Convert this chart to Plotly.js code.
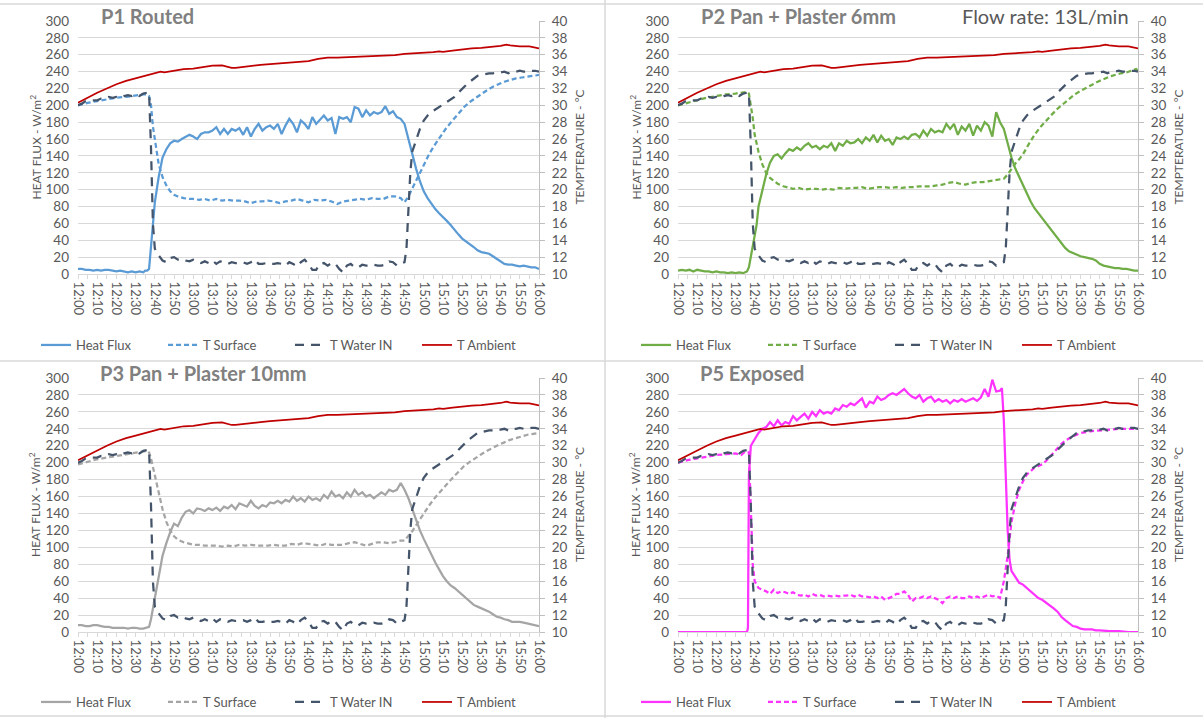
<!DOCTYPE html>
<html>
<head>
<meta charset="utf-8">
<script src="https://cdn.plot.ly/plotly-3.0.1.min.js"></script>
<style>
  html, body { margin: 0; padding: 0; background: #ffffff; }
  #chart { width: 1203px; height: 718px; }
</style>
</head>
<body>
<div id="chart"></div>
<script>
// ---------------- DATA ----------------
// x values are minutes after 12:00
const timeLabels = ['12:00','12:10','12:20','12:30','12:40','12:50','13:00','13:10','13:20','13:30','13:40','13:50',
  '14:00','14:10','14:20','14:30','14:40','14:50','15:00','15:10','15:20','15:30','15:40','15:50','16:00'];

const seriesNames = ['Heat Flux', 'T Surface', 'T Water IN', 'T Ambient'];
const panelTitles = ['P1 Routed', 'P2 Pan + Plaster 6mm', 'P3 Pan + Plaster 10mm', 'P5 Exposed'];
const flowRateNote = 'Flow rate: 13L/min';
const leftAxisTitle = 'HEAT FLUX - W/m<sup>2</sup>';
const rightAxisTitle = 'TEMPTERATURE - °C';

// Shared temperatures (°C) – same in all four panels
const tWaterIn = [[0,30.0],[2,30.2],[4,30.5],[6,30.6],[8,30.6],[10,30.6],[12,30.8],[14,30.8],[16,31.0],[18,30.9],[20,31.0],[22,30.9],[24,31.1],[26,31.2],[28,31.1],[30,31.3],[32,31.1],[34,31.4],[36,31.5],[37,31.5],[38,25.0],[39,16.0],[40,13.0],[42,12.2],[44,11.6],[46,11.4],[48,11.9],[50,12.0],[52,11.7],[54,11.8],[56,11.6],[58,11.5],[60,11.7],[62,11.5],[64,11.3],[66,11.5],[68,11.3],[70,11.6],[72,11.2],[74,11.5],[76,11.4],[78,11.2],[80,11.4],[82,11.3],[84,11.3],[86,11.4],[88,11.2],[90,11.4],[92,11.7],[94,11.2],[96,11.2],[98,11.3],[100,11.2],[102,11.2],[104,11.3],[106,11.2],[108,11.0],[110,11.4],[112,11.2],[114,10.9],[116,11.4],[118,11.7],[120,11.2],[122,10.5],[124,10.5],[126,11.2],[128,11.3],[130,11.0],[132,11.3],[134,11.2],[136,10.6],[138,10.2],[140,11.0],[142,11.2],[144,10.8],[146,10.8],[148,11.1],[150,11.0],[152,11.0],[154,11.1],[156,11.0],[158,11.0],[160,11.1],[162,11.5],[164,11.4],[166,11.0],[168,11.2],[170,11.4],[171,13.0],[172,18.0],[173,22.0],[174,24.5],[176,26.0],[178,27.2],[180,28.2],[182,28.8],[184,29.2],[186,29.5],[188,29.7],[190,30.0],[192,30.3],[194,30.6],[196,31.0],[198,31.5],[200,32.0],[202,32.4],[204,32.8],[206,33.2],[208,33.5],[210,33.6],[212,33.7],[214,33.8],[216,33.8],[218,33.9],[220,33.9],[222,34.0],[224,33.8],[226,34.0],[228,34.0],[230,34.1],[232,34.0],[234,34.0],[236,34.1],[238,34.1],[240,34.0]];

const tAmbient = [[0,30.3],[5,30.9],[10,31.5],[15,32.0],[20,32.5],[25,32.9],[30,33.2],[35,33.5],[40,33.8],[43,34.0],[45,33.9],[50,34.1],[55,34.3],[60,34.35],[65,34.5],[70,34.7],[75,34.75],[78,34.6],[80,34.45],[82,34.45],[85,34.55],[90,34.7],[95,34.8],[100,34.9],[105,35.0],[110,35.1],[115,35.15],[120,35.25],[125,35.5],[130,35.65],[135,35.65],[140,35.7],[145,35.75],[150,35.85],[155,35.9],[160,35.9],[165,35.95],[170,36.1],[175,36.15],[180,36.2],[185,36.3],[188,36.4],[190,36.35],[195,36.5],[200,36.65],[205,36.75],[210,36.8],[215,36.9],[220,37.05],[223,37.2],[225,37.1],[230,37.0],[235,37.0],[240,36.75]];

// P1 Routed
const p1HeatFlux = [[0,6],[2,6],[4,5],[6,5],[8,4],[10,5],[12,4],[14,5],[16,5],[18,4],[20,3],[22,4],[24,3],[26,2],[28,3],[30,2],[32,3],[34,2],[35,4],[36,4],[37,6],[38,30],[39,60],[40,85],[42,115],[44,138],[46,148],[48,155],[50,158],[52,157],[54,160],[56,163],[58,165],[60,163],[62,160],[64,166],[66,168],[68,168],[70,170],[72,174],[74,166],[76,172],[78,166],[80,172],[82,170],[84,173],[86,165],[88,174],[90,163],[92,172],[94,178],[96,170],[98,174],[100,176],[102,172],[104,178],[106,166],[108,176],[110,184],[112,178],[114,168],[116,182],[118,178],[120,172],[122,186],[124,178],[126,183],[128,188],[130,182],[132,185],[134,166],[136,186],[138,184],[140,186],[142,180],[144,198],[146,196],[148,186],[150,194],[152,188],[154,192],[156,190],[158,192],[160,199],[162,190],[164,193],[166,186],[168,184],[170,178],[172,160],[174,140],[176,125],[178,110],[180,98],[182,90],[184,83],[186,77],[188,72],[190,68],[192,63],[194,58],[196,52],[198,47],[200,42],[202,39],[204,36],[206,32],[208,28],[210,26],[212,25],[214,24],[216,21],[218,18],[220,14],[222,12],[224,11],[226,11],[228,10],[230,9],[232,10],[234,9],[236,8],[238,8],[240,6]];
const p1TSurface = [[0,30.0],[5,30.3],[10,30.5],[15,30.7],[20,30.9],[25,31.0],[30,31.2],[34,31.3],[36,31.3],[37,31.1],[38,30.0],[39,27.5],[40,26.0],[42,23.0],[44,21.5],[46,20.5],[48,19.8],[50,19.4],[52,19.2],[55,19.0],[58,18.9],[60,18.9],[63,18.8],[66,18.9],[69,18.7],[72,18.9],[75,18.7],[78,18.8],[81,18.7],[84,18.7],[87,18.6],[90,18.4],[93,18.6],[96,18.6],[99,18.7],[102,18.6],[105,18.4],[108,18.6],[111,18.7],[114,18.9],[117,18.7],[120,18.5],[123,18.8],[126,18.7],[129,18.8],[132,18.6],[135,18.3],[138,18.6],[141,18.7],[144,18.8],[147,18.9],[150,18.8],[153,19.0],[156,18.9],[159,18.9],[162,19.2],[165,19.2],[168,19.0],[170,18.5],[172,19.2],[175,20.6],[178,22.0],[180,23.0],[183,24.3],[186,25.4],[189,26.4],[192,27.4],[195,28.2],[198,29.0],[201,29.8],[204,30.4],[207,30.9],[210,31.4],[213,31.8],[216,32.2],[219,32.5],[222,32.8],[225,33.0],[228,33.2],[231,33.3],[234,33.4],[237,33.5],[240,33.6]];

// P2 Pan + Plaster 6mm
const p2HeatFlux = [[0,4],[2,5],[4,4],[6,5],[8,3],[10,5],[12,4],[14,3],[16,3],[18,2],[20,3],[22,2],[24,2],[26,1],[28,2],[30,1],[32,2],[34,1],[35,2],[36,3],[37,8],[38,20],[39,35],[40,48],[41,58],[42,80],[44,100],[46,118],[48,132],[50,140],[52,142],[54,137],[56,143],[58,148],[60,146],[62,150],[64,147],[66,152],[68,155],[70,150],[72,152],[74,148],[76,152],[78,150],[80,155],[82,146],[84,155],[86,152],[88,158],[90,155],[92,156],[94,160],[96,155],[98,162],[100,158],[102,165],[104,156],[106,164],[108,158],[110,160],[112,153],[114,162],[116,160],[118,163],[120,160],[122,165],[124,166],[126,162],[128,170],[130,164],[132,172],[134,168],[136,170],[138,168],[140,178],[142,172],[144,178],[146,165],[148,175],[150,170],[152,178],[154,164],[156,176],[158,170],[160,180],[162,176],[164,163],[166,192],[168,180],[170,172],[172,155],[174,138],[176,125],[178,115],[180,105],[182,95],[184,86],[186,78],[188,72],[190,66],[192,60],[194,54],[196,48],[198,42],[200,36],[202,31],[204,27],[206,25],[208,23],[210,21],[212,20],[214,19],[216,18],[218,16],[220,12],[222,10],[224,9],[226,8],[228,7],[230,7],[232,6],[234,6],[236,5],[238,4],[240,4]];
const p2TSurface = [[0,30.0],[5,30.3],[10,30.6],[15,30.9],[20,31.1],[25,31.3],[30,31.4],[34,31.5],[36,31.6],[37,31.4],[38,30.0],[39,28.5],[40,26.5],[42,24.5],[44,23.0],[46,22.0],[48,21.4],[50,21.0],[52,20.7],[55,20.4],[58,20.2],[60,20.1],[63,20.2],[66,20.0],[69,20.1],[72,20.1],[75,20.0],[78,20.1],[81,20.0],[84,20.2],[87,20.1],[90,20.2],[93,20.2],[96,20.3],[99,20.1],[102,20.2],[105,20.3],[108,20.3],[111,20.2],[114,20.3],[117,20.2],[120,20.3],[123,20.3],[126,20.4],[129,20.4],[132,20.4],[135,20.5],[138,20.6],[141,20.8],[144,20.9],[147,20.7],[150,20.6],[153,20.8],[156,20.9],[159,20.9],[162,21.0],[165,21.1],[168,21.2],[170,21.3],[172,21.8],[174,22.5],[176,23.1],[178,23.6],[180,24.2],[183,25.4],[186,26.5],[189,27.4],[192,28.2],[195,28.9],[198,29.6],[201,30.2],[204,30.8],[207,31.3],[210,31.7],[213,32.1],[216,32.5],[219,32.8],[222,33.1],[225,33.4],[228,33.6],[231,33.8],[234,33.9],[237,34.1],[239,34.3],[240,34.1]];

// P3 Pan + Plaster 10mm
const p3HeatFlux = [[0,8],[2,8],[4,7],[6,7],[8,8],[10,8],[12,7],[14,6],[16,6],[18,5],[20,5],[22,5],[24,5],[26,4],[28,5],[30,5],[32,4],[34,4],[36,5],[37,6],[38,15],[40,40],[42,65],[44,90],[46,105],[48,118],[50,128],[52,125],[54,135],[56,142],[58,144],[60,140],[62,146],[64,145],[66,143],[68,146],[70,144],[72,147],[74,143],[76,148],[78,146],[80,150],[82,145],[84,152],[86,150],[88,148],[90,155],[92,149],[94,146],[96,150],[98,148],[100,153],[102,152],[104,155],[106,152],[108,156],[110,154],[112,160],[114,155],[116,158],[118,154],[120,160],[122,156],[124,158],[126,155],[128,162],[130,158],[132,166],[134,160],[136,162],[138,158],[140,165],[142,160],[144,168],[146,162],[148,165],[150,160],[152,162],[154,158],[156,162],[158,165],[160,162],[162,168],[164,166],[166,168],[168,176],[170,168],[172,158],[174,145],[176,132],[178,120],[180,110],[182,100],[184,90],[186,82],[188,74],[190,66],[192,60],[194,55],[196,52],[198,48],[200,44],[202,40],[204,35],[206,32],[208,30],[210,28],[212,26],[214,24],[216,21],[218,18],[220,17],[222,15],[224,14],[226,12],[228,12],[230,12],[232,11],[234,10],[236,9],[238,8],[240,7]];
const p3TSurface = [[0,29.8],[5,30.1],[10,30.4],[15,30.6],[20,30.8],[25,31.0],[30,31.2],[34,31.3],[36,31.4],[37,31.2],[38,30.5],[40,28.5],[42,26.5],[44,24.5],[46,23.0],[48,22.0],[50,21.3],[52,20.9],[55,20.6],[58,20.4],[60,20.3],[63,20.3],[66,20.2],[69,20.2],[72,20.2],[75,20.1],[78,20.2],[81,20.1],[84,20.3],[87,20.2],[90,20.3],[93,20.2],[96,20.2],[99,20.2],[102,20.3],[105,20.2],[108,20.2],[111,20.4],[114,20.3],[117,20.5],[120,20.4],[123,20.3],[126,20.2],[129,20.4],[132,20.3],[135,20.3],[138,20.3],[141,20.5],[144,20.6],[147,20.4],[150,20.2],[153,20.4],[156,20.6],[159,20.6],[162,20.5],[165,20.6],[168,20.8],[170,20.8],[172,21.3],[174,21.9],[176,22.6],[178,23.3],[180,24.0],[183,25.0],[186,25.9],[189,26.7],[192,27.5],[195,28.2],[198,28.9],[201,29.6],[204,30.1],[207,30.6],[210,31.0],[213,31.4],[216,31.8],[219,32.1],[222,32.4],[225,32.7],[228,32.9],[231,33.1],[234,33.3],[237,33.4],[240,33.5]];

// P5 Exposed
const p5HeatFlux = [[0,0],[10,0],[20,0],[30,0],[36,0],[36.5,5],[37,185],[38,220],[40,228],[42,235],[44,240],[46,242],[48,248],[50,243],[52,250],[54,244],[56,248],[58,246],[60,255],[62,250],[64,254],[66,258],[68,252],[70,260],[72,255],[74,262],[76,258],[78,260],[80,258],[82,264],[84,262],[86,268],[88,266],[90,270],[92,268],[94,272],[96,276],[98,265],[100,272],[102,270],[104,278],[106,274],[108,276],[110,280],[112,282],[114,280],[116,284],[118,287],[120,282],[122,278],[124,276],[126,280],[128,272],[130,276],[132,278],[134,272],[136,275],[138,272],[140,274],[142,270],[144,274],[146,272],[148,275],[150,272],[152,274],[154,276],[156,273],[158,277],[160,287],[162,278],[164,298],[166,284],[168,285],[169,288],[170,250],[171,180],[172,120],[173,85],[174,72],[176,65],[178,58],[180,56],[182,52],[184,48],[186,44],[188,40],[190,38],[192,35],[194,32],[196,28],[198,24],[200,18],[202,14],[204,10],[206,7],[208,6],[210,4],[212,3],[214,3],[216,3],[218,2],[220,2],[225,1],[230,1],[235,0],[240,0]];
const p5TSurface = [[0,30.0],[5,30.3],[10,30.5],[15,30.7],[20,30.9],[25,31.0],[30,31.1],[33,30.9],[35,31.3],[37,31.2],[38,25.0],[39,18.0],[40,16.0],[42,15.2],[44,15.0],[46,14.8],[48,14.5],[50,15.0],[52,14.6],[54,14.8],[56,14.7],[58,14.5],[60,14.7],[62,14.4],[64,14.3],[66,14.4],[68,14.2],[70,14.5],[72,14.3],[74,14.4],[76,14.2],[78,14.3],[80,14.2],[82,14.3],[84,14.2],[86,14.3],[88,14.3],[90,14.4],[92,14.2],[94,14.4],[96,14.2],[98,14.2],[100,14.1],[102,14.2],[104,14.0],[106,14.2],[108,13.8],[110,14.0],[112,14.2],[114,14.5],[116,14.5],[118,14.8],[120,14.4],[122,13.6],[124,14.0],[126,14.0],[128,14.2],[130,14.0],[132,14.2],[134,14.0],[136,13.8],[138,13.4],[140,14.0],[142,14.2],[144,14.0],[146,14.2],[148,14.0],[150,14.0],[152,14.2],[154,14.0],[156,14.2],[158,14.0],[160,14.2],[162,14.4],[164,14.2],[166,14.3],[168,14.0],[170,16.0],[172,19.0],[174,23.0],[176,25.2],[178,26.8],[180,27.8],[182,28.6],[184,29.0],[186,29.4],[188,29.6],[190,29.8],[192,30.2],[194,30.7],[196,31.2],[198,31.8],[200,32.2],[202,32.6],[204,32.9],[206,33.1],[208,33.3],[210,33.5],[215,33.7],[220,33.8],[225,33.9],[230,34.0],[235,34.0],[240,34.0]];

const fluxColors = ['#5B9BD5', '#70AD47', '#A5A5A5', '#FF33FF'];
const waterColor = '#44546A';
const ambientColor = '#C00000';

// ---------------- CHART ----------------
const W = 1203, H = 718;
const px = v => v / W;
const py = v => 1 - v / H;

const panels = [
  {title: panelTitles[0], flux: p1HeatFlux, surf: p1TSurface, color: fluxColors[0], xL: 78, xR: 539, yT: 21, yB: 274, legY: 345, legX: 36, titleX: 99},
  {title: panelTitles[1], flux: p2HeatFlux, surf: p2TSurface, color: fluxColors[1], xL: 678, xR: 1138, yT: 21, yB: 274, legY: 345, legX: 636, titleX: 699},
  {title: panelTitles[2], flux: p3HeatFlux, surf: p3TSurface, color: fluxColors[2], xL: 78, xR: 539, yT: 378, yB: 632, legY: 702, legX: 36, titleX: 98},
  {title: panelTitles[3], flux: p5HeatFlux, surf: p5TSurface, color: fluxColors[3], xL: 678, xR: 1138, yT: 378, yB: 632, legY: 702, legX: 636, titleX: 698}
];

const tickvals = timeLabels.map((_, i) => i * 10);
const FONT = 'Lato, "Open Sans", sans-serif';
const gray = '#595959';

const traces = [];
const layout = {
  width: W, height: H,
  margin: {l: 0, r: 0, t: 0, b: 0, autoexpand: false},
  paper_bgcolor: '#ffffff', plot_bgcolor: 'rgba(0,0,0,0)',
  font: {family: FONT, color: gray, size: 13},
  showlegend: true,
  annotations: [], shapes: []
};

panels.forEach((p, i) => {
  const n = i + 1;
  const xa = n === 1 ? 'x' : 'x' + n;
  const yl = 'y' + (2 * n - 1 === 1 ? '' : (2 * n - 1));
  const yr = 'y' + (2 * n);
  const legName = n === 1 ? 'legend' : 'legend' + n;
  const xKey = n === 1 ? 'xaxis' : 'xaxis' + n;
  const ylKey = 'yaxis' + (2 * n - 1 === 1 ? '' : (2 * n - 1));
  const yrKey = 'yaxis' + (2 * n);
  const xdom = [px(p.xL), px(p.xR)];
  const ydom = [py(p.yB), py(p.yT)];

  traces.push({
    type: 'scatter', mode: 'lines', name: seriesNames[0],
    x: p.flux.map(d => d[0]), y: p.flux.map(d => d[1]),
    xaxis: xa, yaxis: yl, legend: legName,
    line: {color: p.color, width: 2.25}, hoverinfo: 'skip'
  });
  traces.push({
    type: 'scatter', mode: 'lines', name: seriesNames[1],
    x: p.surf.map(d => d[0]), y: p.surf.map(d => d[1]),
    xaxis: xa, yaxis: yr, legend: legName,
    line: {color: p.color, width: 2.25, dash: '5px,3px'}, hoverinfo: 'skip'
  });
  traces.push({
    type: 'scatter', mode: 'lines', name: seriesNames[2],
    x: tWaterIn.map(d => d[0]), y: tWaterIn.map(d => d[1]),
    xaxis: xa, yaxis: yr, legend: legName,
    line: {color: waterColor, width: 2.25, dash: '9px,7px'}, hoverinfo: 'skip'
  });
  traces.push({
    type: 'scatter', mode: 'lines', name: seriesNames[3],
    x: tAmbient.map(d => d[0]), y: tAmbient.map(d => d[1]),
    xaxis: xa, yaxis: yr, legend: legName,
    line: {color: ambientColor, width: 1.75}, hoverinfo: 'skip'
  });

  layout[xKey] = {
    domain: xdom, anchor: yl, range: [0, 240],
    tickmode: 'array', tickvals: tickvals, ticktext: timeLabels, tickangle: 90,
    showline: true, linecolor: '#D9D9D9', linewidth: 1,
    ticks: 'outside', ticklen: 4, tickcolor: '#D9D9D9',
    minor: {tickmode: 'linear', tick0: 0, dtick: 5, ticks: 'outside', ticklen: 4, tickcolor: '#D9D9D9'},
    showgrid: false, zeroline: false, fixedrange: true, automargin: false,
    tickfont: {family: FONT, size: 13, color: gray}
  };
  layout[ylKey] = {
    domain: ydom, anchor: xa, range: [0, 300], tickmode: 'linear', tick0: 0, dtick: 20,
    showgrid: true, gridcolor: '#D9D9D9', gridwidth: 1,
    showline: false, zeroline: false, ticks: '', ticklabelstandoff: 8, fixedrange: true, automargin: false,
    tickfont: {family: FONT, size: 13.5, color: gray}
  };
  layout[yrKey] = {
    overlaying: yl, side: 'right', anchor: xa, range: [10, 40], tickmode: 'linear', tick0: 10, dtick: 2,
    showgrid: false, zeroline: false, showline: true, linecolor: '#BFBFBF', linewidth: 1,
    ticks: 'outside', ticklen: 5, tickcolor: '#BFBFBF', ticklabelstandoff: 4, fixedrange: true, automargin: false,
    tickfont: {family: FONT, size: 13.5, color: gray}
  };
  layout[legName] = {
    orientation: 'h', x: px(p.legX), y: py(p.legY), xanchor: 'left', yanchor: 'middle',
    entrywidth: 82, entrywidthmode: 'pixels', bgcolor: 'rgba(0,0,0,0)',
    font: {family: FONT, size: 13, color: gray}, itemclick: false, itemdoubleclick: false
  };

  // panel title
  layout.annotations.push({
    xref: 'paper', yref: 'paper', x: px(p.titleX), y: py(p.yT - 5), xanchor: 'left', yanchor: 'middle',
    text: '<b>' + p.title + '</b>', showarrow: false,
    font: {family: FONT, size: 20, color: '#808080'}
  });
  // left axis title
  layout.annotations.push({
    xref: 'paper', yref: 'paper', x: px(p.xL - 43), y: py((p.yT + p.yB) / 2), xanchor: 'center', yanchor: 'middle',
    text: leftAxisTitle, textangle: -90, showarrow: false,
    font: {family: FONT, size: 12, color: gray}
  });
  // right axis title
  layout.annotations.push({
    xref: 'paper', yref: 'paper', x: px(p.xR + 40), y: py((p.yT + p.yB) / 2), xanchor: 'center', yanchor: 'middle',
    text: rightAxisTitle, textangle: -90, showarrow: false,
    font: {family: FONT, size: 12, color: gray}
  });
});

layout.annotations.push({
  xref: 'paper', yref: 'paper', x: px(1045), y: py(16), xanchor: 'center', yanchor: 'middle',
  text: flowRateNote, showarrow: false, font: {family: FONT, size: 20, color: gray}
});

// chart-box borders
const border = '#D9D9D9';
[[0, 4, W, 4], [0, 361, W, 361], [0, 716, W, 716], [605, 0, 605, H]].forEach(s => {
  layout.shapes.push({type: 'line', xref: 'paper', yref: 'paper', x0: px(s[0]), y0: py(s[1]), x1: px(s[2]), y1: py(s[3]),
    line: {color: border, width: 1.5}, layer: 'below'});
});

Plotly.newPlot('chart', traces, layout, {staticPlot: true, displayModeBar: false});
</script>
</body>
</html>
